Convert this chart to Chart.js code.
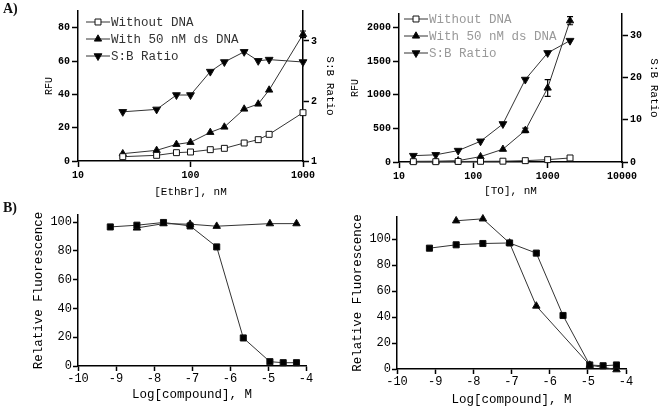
<!DOCTYPE html>
<html>
<head>
<meta charset="utf-8">
<script src="https://cdn.jsdelivr.net/npm/chart.js@4.4.0/dist/chart.umd.min.js"></script>
<style>
  html, body { margin: 0; padding: 0; background: #fff; }
  #wrap { position: relative; width: 661px; height: 409px; overflow: hidden; }
  #wrap canvas { position: absolute; left: 0; top: 0; }
  .tag { position: absolute; font: bold 14px 'Liberation Serif', serif; color: #111; }
</style>
</head>
<body>
<div id="wrap">
  <canvas id="c1" width="661" height="409"></canvas>
  <canvas id="c2" width="661" height="409"></canvas>
  <canvas id="c3" width="661" height="409"></canvas>
  <canvas id="c4" width="661" height="409"></canvas>
  <div class="tag" style="left:3px;top:1px">A)</div>
  <div class="tag" style="left:3px;top:200px">B)</div>
</div>
<script>
// ---- A) left : EthBr ----
const ethConc = [25, 50, 75, 100, 150, 200, 300, 400, 500, 1000];
const ethNoDna = [2.6, 3.4, 5.0, 5.4, 6.8, 7.6, 10.8, 12.8, 16.0, 29.0];
const ethDna = [4.4, 6.4, 10.0, 11.2, 17.2, 20.4, 31.2, 34.2, 42.6, 76.0];
const ethDnaErr = [0, 0, 0, 0, 0, 0, 0, 0, 0, 2];
const ethRatio = [1.82, 1.86, 2.10, 2.10, 2.49, 2.65, 2.82, 2.67, 2.69, 2.65];
const ethXTicks = [10, 100, 1000];
const ethYTicks = [0, 20, 40, 60, 80];
const ethRTicks = [1, 2, 3];

// ---- A) right : TO ----
const toConc = [15.6, 31.25, 62.5, 125, 250, 500, 1000, 2000];
const toNoDna = [5, 5, 8, 10, 12, 20, 35, 60];
const toDna = [10, 12, 20, 80, 190, 470, 1100, 2100];
const toDnaErr = [0, 0, 0, 0, 0, 35, 125, 60];
const toRatio = [1.5, 1.7, 2.7, 4.9, 9.0, 19.5, 25.8, 28.7];
const toXTicks = [10, 100, 1000, 10000];
const toYTicks = [0, 500, 1000, 1500, 2000];
const toRTicks = [0, 10, 20, 30];

// ---- B) ----
const logConc = [-9.15, -8.45, -7.75, -7.05, -6.35, -5.65, -4.95, -4.6, -4.25];
const b1Square = [96.7, 97.9, 99.8, 97.4, 82.8, 19.5, 3.0, 2.3, 2.3];
const b1Triangle = [null, 96.0, 99.0, 98.6, 97.2, null, 99.0, null, 99.0];
const b2Square = [93.0, 95.6, 96.6, 97.0, 89.2, 41.2, 3.1, 2.5, 3.1];
const b2Triangle = [null, 114.1, 115.6, 97.0, 48.5, null, 3.0, null, -0.5];
const bXTicks = [-10, -9, -8, -7, -6, -5, -4];
const bYTicks = [0, 20, 40, 60, 80, 100];

const MONO = "'Liberation Mono', 'Courier New', monospace";
const LINE = '#333';

function pts(xs, ys) { return xs.map((x, i) => ({ x: x, y: ys[i] })); }
function fixedTicks(values) { return s => { s.ticks = values.map(v => ({ value: v })); }; }

function drawMarker(ctx, ds, x, y) {
  const r = ds.pointRadius;
  ctx.beginPath();
  if (ds.pointStyle === 'rect') {
    const s = r * Math.SQRT1_2;
    ctx.rect(x - s, y - s, 2 * s, 2 * s);
  } else {
    const d = ds.pointRotation === 180 ? -1 : 1;
    ctx.moveTo(x, y - d * r);
    ctx.lineTo(x + r * 0.866, y + d * r / 2);
    ctx.lineTo(x - r * 0.866, y + d * r / 2);
    ctx.closePath();
  }
  ctx.fillStyle = ds.pointBackgroundColor;
  ctx.fill();
  ctx.strokeStyle = ds.pointBorderColor;
  ctx.lineWidth = ds.pointBorderWidth;
  ctx.stroke();
}

// legend drawn inside the plot: short line with the marker on it, then the label
const lineLegend = {
  id: 'lineLegend',
  afterDraw(chart, args, o) {
    if (!o || o.x === undefined) return;
    const ctx = chart.ctx;
    ctx.save();
    chart.data.datasets.forEach((ds, i) => {
      const y = o.y + i * o.dy;
      ctx.strokeStyle = ds.borderColor;
      ctx.lineWidth = 1;
      ctx.beginPath();
      ctx.moveTo(o.x, y);
      ctx.lineTo(o.x + o.len, y);
      ctx.stroke();
      drawMarker(ctx, ds, o.x + o.len / 2, y);
      ctx.fillStyle = o.color;
      ctx.font = o.font;
      ctx.textBaseline = 'middle';
      ctx.textAlign = 'left';
      ctx.fillText(ds.label, o.x + o.len + 1, y + 1);
    });
    ctx.restore();
  }
};

// vertical error bars with caps
const errorBars = {
  id: 'errorBars',
  afterDatasetsDraw(chart) {
    const ctx = chart.ctx;
    ctx.save();
    chart.data.datasets.forEach((ds, di) => {
      if (!ds.errors) return;
      const meta = chart.getDatasetMeta(di);
      const ys = chart.scales[ds.yAxisID || 'y'];
      ds.data.forEach((p, i) => {
        const e = ds.errors[i];
        if (!e) return;
        const x = meta.data[i].x;
        const t = ys.getPixelForValue(p.y + e);
        const b = ys.getPixelForValue(p.y - e);
        ctx.strokeStyle = '#000';
        ctx.lineWidth = 1.2;
        ctx.beginPath();
        ctx.moveTo(x, t); ctx.lineTo(x, b);
        ctx.moveTo(x - 3, t); ctx.lineTo(x + 3, t);
        ctx.moveTo(x - 3, b); ctx.lineTo(x + 3, b);
        ctx.stroke();
      });
    });
    ctx.restore();
  }
};

function axisBase(tickLen, font, pad) {
  return {
    border: { color: '#000', width: 1.5 },
    grid: { drawOnChartArea: false, color: '#000', tickLength: tickLen, tickWidth: 1.5 },
    ticks: { color: '#000', padding: pad, font: font, callback: v => String(v) }
  };
}

function series(label, data, style, extra) {
  return Object.assign({
    label: label,
    data: data,
    borderColor: LINE,
    borderWidth: 1,
    tension: 0,
    spanGaps: true,
    clip: false,
    pointStyle: style === 'open' ? 'rect' : style,
    pointRadius: 4.2,
    pointHoverRadius: 4.2,
    pointBackgroundColor: style === 'open' ? '#fff' : '#000',
    pointBorderColor: '#111',
    pointBorderWidth: 1,
    pointRotation: 0
  }, extra || {});
}

const commonOpts = {
  responsive: false,
  animation: false,
  events: [],
  plugins: { legend: { display: false }, tooltip: { enabled: false } }
};

const tickTop = { family: MONO, size: 10, weight: 'bold' };
const titleTop = { family: MONO, size: 10, weight: 'normal' };
const titleX = { family: MONO, size: 11, weight: 'normal' };
const titleRight = { family: MONO, size: 11, weight: 'normal' };
const legendFont = "12.5px " + MONO;
const tickBot = { family: MONO, size: 12, weight: 'normal' };
const titleBot = { family: MONO, size: 12.5, weight: 'normal' };

function topPanel(id, p) {
  new Chart(document.getElementById(id), {
    type: 'line',
    plugins: [lineLegend, errorBars],
    data: {
      datasets: [
        series('Without DNA', pts(p.conc, p.noDna), 'open'),
        series('With 50 nM ds DNA', pts(p.conc, p.dna), 'triangle', { errors: p.dnaErr }),
        series('S:B Ratio', pts(p.conc, p.ratio), 'triangle', { yAxisID: 'y2', pointRotation: 180, pointRadius: 4.5 })
      ]
    },
    options: Object.assign({}, commonOpts, {
      layout: { padding: p.pad },
      plugins: Object.assign({}, commonOpts.plugins, { lineLegend: p.legend }),
      scales: {
        x: Object.assign(axisBase(6, tickTop, 2), {
          type: 'logarithmic', min: p.xMin, max: p.xMax,
          afterBuildTicks: fixedTicks(p.xTicks),
          afterFit: s => { s.height = p.xH; },
          title: { display: true, text: p.xTitle, color: '#000', font: titleX, padding: { top: 0, bottom: p.xTitlePad } }
        }),
        y: Object.assign(axisBase(6, tickTop, 2), {
          type: 'linear', position: 'left', min: 0, max: p.yMax,
          afterBuildTicks: fixedTicks(p.yTicks),
          afterFit: s => { s.width = p.yW; },
          title: { display: true, text: 'RFU', color: '#000', font: titleTop, padding: { top: p.yTitlePad, bottom: 0 } }
        }),
        y2: Object.assign(axisBase(6, tickTop, 2), {
          type: 'linear', position: 'right', min: p.rMin, max: p.rMax,
          afterBuildTicks: fixedTicks(p.rTicks),
          afterFit: s => { s.width = p.rW; },
          title: { display: true, text: 'S:B Ratio', color: '#000', font: titleRight, padding: { top: p.rTitlePad, bottom: 0 } }
        })
      }
    })
  });
}

function botPanel(id, p) {
  new Chart(document.getElementById(id), {
    type: 'line',
    data: {
      datasets: [
        series('square', pts(logConc, p.sq), 'rect', { pointRadius: 4.3 }),
        series('triangle', pts(logConc, p.tri), 'triangle', { pointRadius: 4.3 })
      ]
    },
    options: Object.assign({}, commonOpts, {
      layout: { padding: p.pad },
      scales: {
        x: Object.assign(axisBase(5, tickBot, 1), {
          type: 'linear', min: -10, max: -4,
          afterBuildTicks: fixedTicks(bXTicks),
          afterFit: s => { s.height = p.xH; },
          title: { display: true, text: 'Log[compound], M', color: '#000', font: titleBot, padding: { top: 0, bottom: p.xTitlePad } }
        }),
        y: Object.assign(axisBase(5, tickBot, 1), {
          type: 'linear', position: 'left', min: 0, max: p.yMax,
          afterBuildTicks: fixedTicks(bYTicks),
          afterFit: s => { s.width = p.yW; },
          title: { display: true, text: 'Relative Fluorescence', color: '#000', font: titleBot, padding: { top: p.yTitlePad, bottom: 0 } }
        })
      }
    })
  });
}

topPanel('c1', {
  conc: ethConc, noDna: ethNoDna, dna: ethDna, dnaErr: ethDnaErr, ratio: ethRatio,
  pad: { left: 0, top: 11, right: 321, bottom: 209 },
  xMin: 10, xMax: 1000, xTicks: ethXTicks, xH: 39, xTitle: '[EthBr], nM', xTitlePad: 1.7,
  yMax: 90, yTicks: ethYTicks, yW: 78, yTitlePad: 43,
  rMin: 1, rMax: 3.5, rTicks: ethRTicks, rW: 37, rTitlePad: 3.4,
  legend: { x: 86, y: 22, dy: 17, len: 24, color: '#333', font: legendFont }
});

topPanel('c2', {
  conc: toConc, noDna: toNoDna, dna: toDna, dnaErr: toDnaErr, ratio: toRatio,
  pad: { left: 330, top: 14, right: 0, bottom: 209 },
  xMin: 10, xMax: 10000, xTicks: toXTicks, xH: 38, xTitle: '[TO], nM', xTitlePad: 2.7,
  yMax: 2200, yTicks: toYTicks, yW: 69, yTitlePad: 19,
  rMin: 0, rMax: 35, rTicks: toRTicks, rW: 39, rTitlePad: 0.4,
  legend: { x: 404, y: 19, dy: 17, len: 24, color: '#999', font: legendFont }
});

botPanel('c3', {
  sq: b1Square, tri: b1Triangle,
  pad: { left: 0, top: 215, right: 355, bottom: 0 },
  xH: 43, xTitlePad: 6.4, yMax: 105, yW: 78, yTitlePad: 31.5
});

botPanel('c4', {
  sq: b2Square, tri: b2Triangle,
  pad: { left: 330, top: 217, right: 35, bottom: 0 },
  xH: 40, xTitlePad: 1.5, yMax: 117, yW: 67, yTitlePad: 20.5
});
</script>
</body>
</html>
